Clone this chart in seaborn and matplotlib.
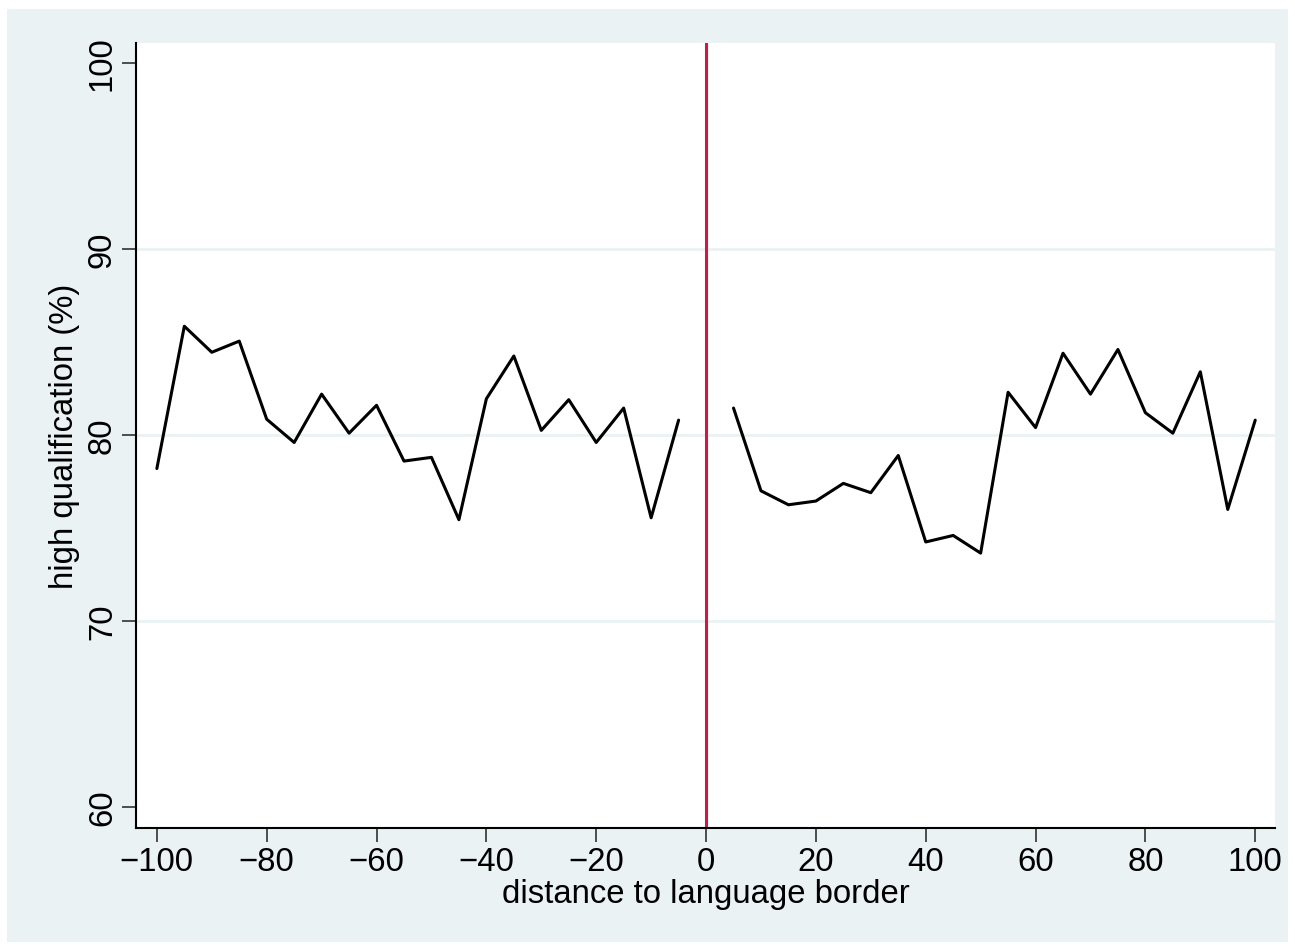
import matplotlib
matplotlib.use("Agg")
import matplotlib.pyplot as plt
import seaborn as sns
import pandas as pd
from matplotlib.patches import Rectangle

# Data
dist_left = [-100, -95, -90, -85, -80, -75, -70, -65, -60, -55, -50, -45, -40,
             -35, -30, -25, -20, -15, -10, -5]
qual_left = [78.2, 85.85, 84.45, 85.05, 80.85, 79.6, 82.2, 80.1, 81.6, 78.6,
             78.8, 75.45, 81.95, 84.25, 80.25, 81.9, 79.6, 81.45, 75.55, 80.8]
dist_right = [5, 10, 15, 20, 25, 30, 35, 40, 45, 50, 55, 60, 65, 70, 75, 80,
              85, 90, 95, 100]
qual_right = [81.45, 77.0, 76.25, 76.45, 77.4, 76.9, 78.9, 74.25, 74.6, 73.65,
              82.3, 80.4, 84.4, 82.2, 84.6, 81.2, 80.1, 83.4, 76.0, 80.8]
x_ticks = [-100, -80, -60, -40, -20, 0, 20, 40, 60, 80, 100]
y_ticks = [60, 70, 80, 90, 100]

sns.set_style("white")
plt.rcParams['font.family'] = ['Liberation Sans', 'DejaVu Sans']
plt.rcParams['text.color'] = 'black'
plt.rcParams['axes.labelcolor'] = 'black'
plt.rcParams['xtick.color'] = 'black'
plt.rcParams['ytick.color'] = 'black'

bg = "#EAF2F3"
fig = plt.figure(figsize=(12.95, 9.53), dpi=100, facecolor="white")
fig.patches.append(Rectangle((7 / 1295, 1 - 943 / 953), (1288 - 7) / 1295, (943 - 10) / 953,
                             transform=fig.transFigure, facecolor=bg, edgecolor="none",
                             zorder=-10))
ax = fig.add_axes([136 / 1295, 1 - 829 / 953, (1275 - 136) / 1295, (829 - 44) / 953])
ax.set_zorder(1)
ax.set_facecolor("white")

df_l = pd.DataFrame({"dist": dist_left, "qual": qual_left})
df_r = pd.DataFrame({"dist": dist_right, "qual": qual_right})

for y in [70, 80, 90]:
    ax.axhline(y, color=bg, lw=2, zorder=0)

sns.lineplot(data=df_l, x="dist", y="qual", color="black", lw=2.2, ax=ax, zorder=3)
sns.lineplot(data=df_r, x="dist", y="qual", color="black", lw=2.2, ax=ax, zorder=3)
ax.axvline(0, color="#D31648", lw=2.2, zorder=2)

ax.set_xlim(-103.8, 103.6)
ax.set_ylim(58.87, 101.08)
ax.set_xticks(x_ticks)
ax.set_yticks(y_ticks)
ax.tick_params(axis="both", direction="out", length=10, width=1.1, color="#222222",
               labelcolor="black", labelsize=23.7, pad=3, left=True, bottom=True)
for lab in ax.get_yticklabels():
    lab.set_rotation(90)
    lab.set_va("center")
ax.set_xlabel("distance to language border", fontsize=23.7, labelpad=1, color="black")
ax.set_ylabel("high qualification (%)", fontsize=23.7, labelpad=5, color="black")

for s in ["top", "right"]:
    ax.spines[s].set_visible(False)
for s in ["left", "bottom"]:
    ax.spines[s].set_color("black")
    ax.spines[s].set_linewidth(1.5)

fig.savefig("out.png", dpi=100, facecolor="white")
